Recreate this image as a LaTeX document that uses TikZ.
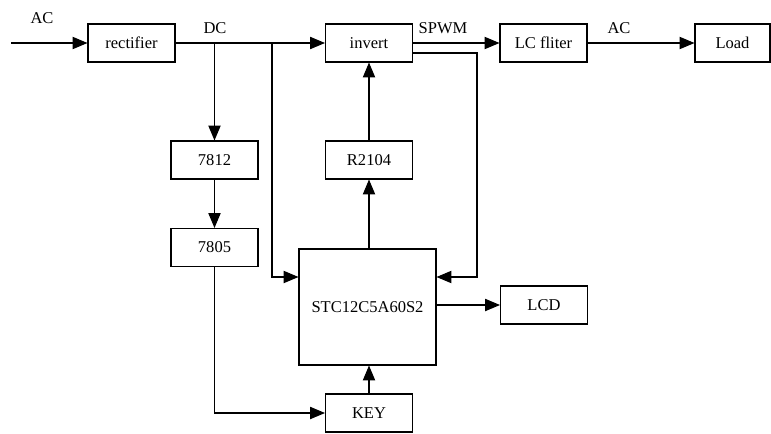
\documentclass[tikz,border=0pt]{standalone}
\usepackage{fontspec}
\setmainfont{Liberation Serif}
\usetikzlibrary{arrows.meta, positioning}

\begin{document}
\begin{tikzpicture}[
    x=0.02cm, y=-0.02cm,
    blk/.style={draw, rectangle, line width=0.6pt, minimum width=1.74cm, minimum height=0.76cm, align=center, font=\fontsize{9.4}{11}\selectfont, inner sep=0pt},
    lbl/.style={font=\fontsize{9.4}{11}\selectfont, inner sep=0pt},
    arr/.style={-{Triangle[length=8.5pt, width=7pt]}, line width=0.6pt}
]
\useasboundingbox (0,0) rectangle (771,433);
\node[blk] (REC) at (131.5, 43) {rectifier};
\node[blk] (INV) at (369, 43) {invert};
\node[blk] (LCF) at (543.5, 43) {LC fliter};
\node[blk, minimum width=1.5cm] (LOAD) at (732.5, 43) {Load};
\node[blk] (V12) at (214.5, 160) {7812};
\node[blk] (V5) at (214.5, 247.5) {7805};
\node[blk] (DRV) at (369, 160) {R2104};
\node[blk, minimum width=2.74cm, minimum height=2.32cm] (MCU) at (367.5, 307) {STC12C5A60S2};
\node[blk] (LCD) at (544, 305) {LCD};
\node[blk] (KEY) at (369, 413) {KEY};
\node[lbl] (ACIN) at (42, 18) {AC};
\node[lbl] (DC) at (215, 28) {DC};
\node[lbl] (SPWM) at (443, 28) {SPWM};
\node[lbl] (ACOUT) at (619, 28) {AC};
\coordinate (IN) at (11, 43);
\coordinate (DC1) at (214.5, 43);
\coordinate (DC2) at (272, 43);
\coordinate (DC2B) at (272, 277);
\coordinate (FBT) at (477, 53);
\coordinate (FBB) at (477, 277);
\draw[arr] (IN) -- (REC);
\draw[arr] (REC) -- (INV);
\draw[arr] (INV) -- (LCF);
\draw[arr] (LCF) -- (LOAD);
\draw[arr] (DC1) -- (V12);
\draw[arr] (V12) -- (V5);
\draw[arr] (DC2) -- (DC2B) -- (MCU.west |- DC2B);
\draw[arr] (INV.east |- FBT) -- (FBT) -- (FBB) -- (MCU.east |- FBB);
\draw[arr] (MCU.north -| DRV) -- (DRV);
\draw[arr] (DRV) -- (INV);
\draw[arr] (MCU.east |- LCD) -- (LCD);
\draw[arr] (KEY) -- (MCU.south -| KEY);
\draw[arr] (V5) |- (KEY);
\end{tikzpicture}
\end{document}
